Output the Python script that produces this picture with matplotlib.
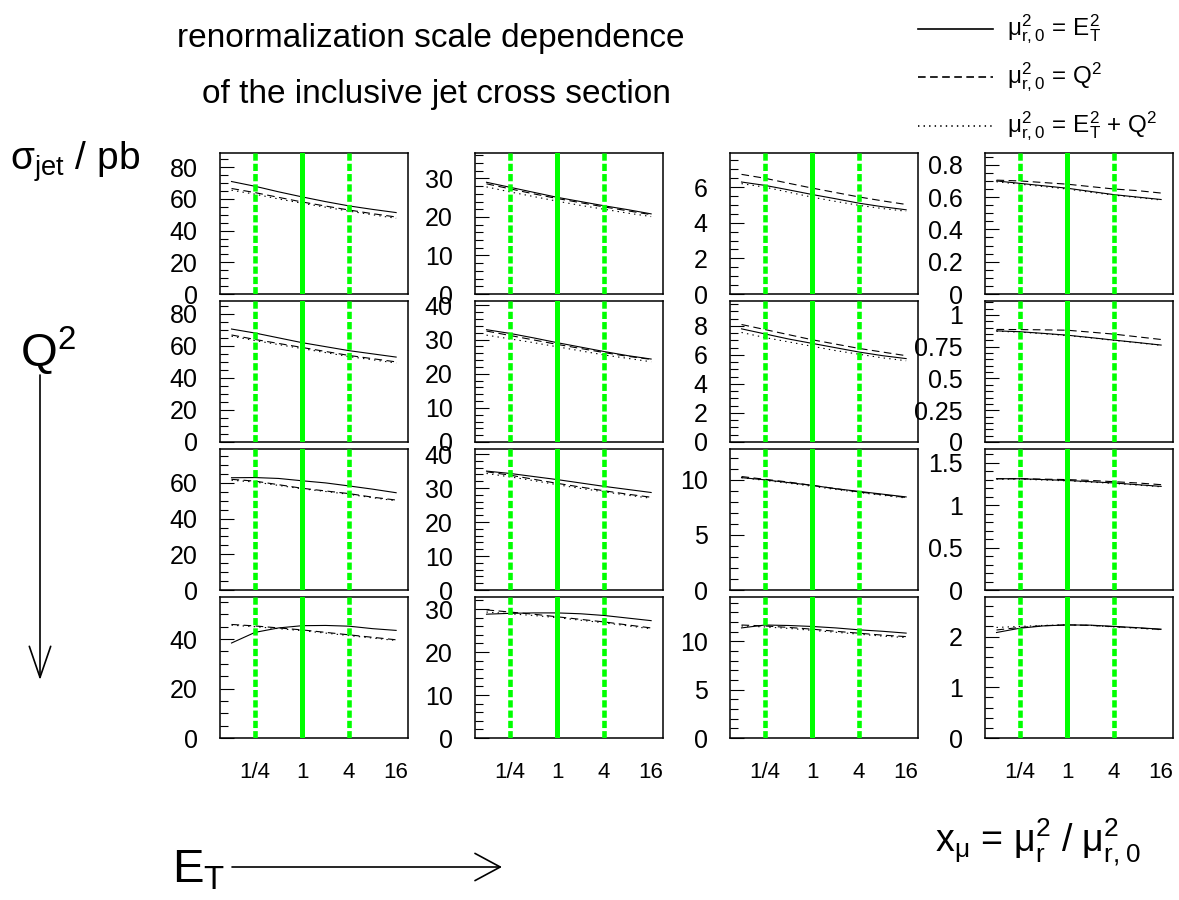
import numpy as np
import matplotlib.pyplot as plt
from matplotlib.lines import Line2D
from matplotlib.patches import FancyArrowPatch
from matplotlib.ticker import FixedLocator, MultipleLocator, AutoMinorLocator, NullLocator, FuncFormatter

plt.rcParams['font.family'] = ['Liberation Sans', 'DejaVu Sans']
plt.rcParams['mathtext.default'] = 'regular'
plt.rcParams['lines.scale_dashes'] = False

# renormalization scale factor x_mu = mu_r^2 / mu_r,0^2
xmu = [1/8, 1/4, 1/2, 1, 2, 4, 8, 16]
xtick_vals = [1/4, 1, 4, 16]
xtick_labels = ['1/4', '1', '4', '16']

# sigma_jet / pb, [Q2 row][E_T column]
# mu_r,0^2 = E_T^2 (solid)
sigma_et = [
    [[71, 68, 64.5, 61.3, 58.3, 55.6, 53.4, 51.4],
     [29, 27.7, 26.4, 25.1, 24, 22.9, 21.9, 20.8],
     [6.29, 6.1, 5.85, 5.59, 5.35, 5.1, 4.9, 4.73],
     [0.70, 0.685, 0.67, 0.655, 0.635, 0.615, 0.60, 0.585]],
    [[70.5, 68, 65, 62, 59.5, 57, 55, 53],
     [32.9, 31.8, 30.5, 29.1, 27.8, 26.5, 25.3, 24.3],
     [7.8, 7.45, 7.1, 6.8, 6.5, 6.2, 5.95, 5.75],
     [0.875, 0.868, 0.855, 0.841, 0.822, 0.802, 0.783, 0.763]],
    [[62.9, 63, 62.5, 61.2, 60, 58.3, 56.5, 54.5],
     [35, 34.3, 33.4, 32.5, 31.5, 30.5, 29.6, 28.7],
     [10.2, 10.0, 9.75, 9.5, 9.2, 8.95, 8.7, 8.45],
     [1.31, 1.31, 1.30, 1.29, 1.275, 1.26, 1.24, 1.22]],
    [[38.4, 42.7, 44.5, 45.4, 45.5, 45.2, 44.2, 43.5],
     [28.8, 29.0, 29.1, 29.1, 28.9, 28.5, 27.9, 27.3],
     [11.4, 11.7, 11.65, 11.55, 11.4, 11.2, 11.05, 10.86],
     [2.08, 2.165, 2.21, 2.23, 2.225, 2.20, 2.175, 2.145]],
]
# mu_r,0^2 = Q^2 (dashed)
sigma_q2 = [
    [[66.6, 64, 61, 58.1, 55.5, 53, 50.7, 48.6],
     [28.6, 27.3, 26, 24.8, 23.7, 22.6, 21.6, 20.6],
     [6.72, 6.5, 6.22, 5.95, 5.7, 5.45, 5.23, 5.03],
     [0.705, 0.70, 0.69, 0.68, 0.665, 0.65, 0.64, 0.625]],
    [[66.8, 64, 61.5, 59, 56.5, 54, 52, 50],
     [32.5, 31.2, 29.9, 28.6, 27.4, 26.2, 25.1, 24.2],
     [8.1, 7.75, 7.4, 7.05, 6.75, 6.45, 6.2, 5.95],
     [0.886, 0.885, 0.883, 0.88, 0.865, 0.849, 0.828, 0.807]],
    [[62, 61, 59, 57, 55.5, 54, 52, 50.4],
     [34.8, 33.8, 32.6, 31.4, 30.3, 29.2, 28.2, 27.3],
     [10.3, 10.05, 9.8, 9.5, 9.2, 8.9, 8.65, 8.4],
     [1.31, 1.31, 1.305, 1.30, 1.29, 1.275, 1.26, 1.24]],
    [[45.9, 45.3, 44.5, 43.7, 42.7, 41.7, 40.7, 39.7],
     [29.8, 29.3, 28.8, 28.2, 27.6, 27.0, 26.3, 25.6],
     [11.7, 11.6, 11.45, 11.27, 11.05, 10.85, 10.65, 10.5],
     [2.13, 2.18, 2.215, 2.23, 2.22, 2.195, 2.17, 2.14]],
]
# mu_r,0^2 = E_T^2 + Q^2 (dotted)
sigma_sum = [
    [[65.5, 63, 60, 57.3, 54.8, 52.3, 50, 47.8],
     [27.8, 26.5, 25.3, 24.1, 23, 22, 21, 20.1],
     [6.2, 6.0, 5.72, 5.44, 5.2, 4.98, 4.8, 4.65],
     [0.695, 0.68, 0.665, 0.65, 0.63, 0.612, 0.597, 0.582]],
    [[66, 63.3, 60.8, 58.3, 55.8, 53.3, 51.3, 49.3],
     [31.3, 30.2, 29.1, 27.9, 26.7, 25.5, 24.5, 23.5],
     [7.55, 7.2, 6.9, 6.6, 6.3, 6.05, 5.8, 5.6],
     [0.872, 0.865, 0.852, 0.838, 0.82, 0.8, 0.781, 0.761]],
    [[61.5, 60.5, 58.6, 56.7, 55.2, 53.6, 51.7, 50],
     [34.3, 33.3, 32.2, 31.0, 29.9, 28.9, 27.9, 27.0],
     [10.2, 9.95, 9.7, 9.42, 9.13, 8.85, 8.6, 8.35],
     [1.305, 1.305, 1.295, 1.285, 1.27, 1.255, 1.235, 1.215]],
    [[45.6, 45, 44.2, 43.4, 42.4, 41.4, 40.4, 39.4],
     [29.3, 28.9, 28.5, 28.0, 27.4, 26.8, 26.1, 25.4],
     [11.6, 11.5, 11.35, 11.15, 10.95, 10.75, 10.55, 10.4],
     [2.18, 2.2, 2.22, 2.23, 2.22, 2.19, 2.165, 2.135]],
]

# y axis upper limits and label steps
ymax = [[89, 36.6, 7.92, 0.873],
        [88, 41.3, 9.72, 1.11],
        [79, 41.5, 12.8, 1.66],
        [57, 32.8, 14.6, 2.78]]
ystep = [[20, 10, 2, 0.2],
         [20, 10, 2, 0.25],
         [20, 10, 5, 0.5],
         [20, 10, 5, 1]]

W, H = 1179, 900
fig = plt.figure(figsize=(W / 100, H / 100), dpi=100)

def fx(px):
    return px / W

def fy(py):
    return 1 - py / H

col_left = [220, 475, 730, 985]
row_top = [153, 301, 449, 597]
pw, ph = 188, 141
green = '#00ff00'

for r in range(4):
    for c in range(4):
        ax = fig.add_axes([fx(col_left[c]), fy(row_top[r] + ph), pw / W, ph / H])
        ax.set_xscale('log')
        ax.set_xlim(0.089, 22.7)
        ax.set_ylim(0, ymax[r][c])

        ax.plot(xmu, sigma_et[r][c], color='black', lw=0.8, zorder=2)
        ax.plot(xmu, sigma_q2[r][c], color='black', lw=0.8, dashes=(5.5, 3.2), zorder=2)
        ax.plot(xmu, sigma_sum[r][c], color='black', lw=0.8, dashes=(1, 3), zorder=2)

        tr = ax.get_xaxis_transform()
        ax.plot([1, 1], [1, 0], transform=tr, color=green, lw=3.6, zorder=3)
        for v in (0.25, 4):
            ax.plot([v, v], [1, 0], transform=tr, color=green, lw=3.3,
                    dashes=(5.2, 2.2), zorder=3)

        ax.xaxis.set_major_locator(FixedLocator(xtick_vals))
        ax.xaxis.set_minor_locator(NullLocator())
        if r == 3:
            ax.set_xticklabels(xtick_labels)
        else:
            ax.set_xticklabels([])
        ax.tick_params(axis='x', length=0, pad=17, labelsize=16)

        st = ystep[r][c]
        ax.yaxis.set_major_locator(MultipleLocator(st))
        nsub = 4 if st in (20, 2, 0.2) else 5
        ax.yaxis.set_minor_locator(AutoMinorLocator(nsub))
        ax.yaxis.set_major_formatter(FuncFormatter(lambda v, p: '%g' % round(v, 4)))
        ax.tick_params(axis='y', which='major', direction='in', length=10, width=0.8,
                       pad=16, labelsize=18)
        ax.tick_params(axis='y', which='minor', direction='in', length=5.5, width=0.8)
        for s in ax.spines.values():
            s.set_linewidth(1.1)

# title
fig.text(fx(431), fy(47), 'renormalization scale dependence', ha='center', va='baseline',
         fontsize=24)
fig.text(fx(436), fy(103), 'of the inclusive jet cross section', ha='center', va='baseline',
         fontsize=24)

# axis descriptions
fig.text(fx(10), fy(170), r'$\sigma_{jet}$ / pb', ha='left', va='baseline', fontsize=28)
fig.text(fx(20), fy(366), r'$Q^{2}$', ha='left', va='baseline', fontsize=34)
fig.text(fx(172), fy(882), r'$E_{T}$', ha='left', va='baseline', fontsize=34)
fig.text(fx(935), fy(852), r'$x_{\mu}$ = $\mu_{r}^{2}$ / $\mu_{r,0}^{2}$', ha='left',
         va='baseline', fontsize=27)

arrows = [((40, 375), (40, 680), 'head_length=1.6,head_width=0.55'),
          ((232, 867), (502, 867), 'head_length=1.3,head_width=0.7')]
for (x0, y0), (x1, y1), head in arrows:
    fig.add_artist(FancyArrowPatch((fx(x0), fy(y0)), (fx(x1), fy(y1)),
                                   transform=fig.transFigure, arrowstyle='->,' + head,
                                   mutation_scale=14, color='black', lw=1.2,
                                   shrinkA=0, shrinkB=0))

# legend
leg_y = [29, 77, 126]
leg_text = [r'$\mu_{r,0}^{2}$ = $E_{T}^{2}$',
            r'$\mu_{r,0}^{2}$ = $Q^{2}$',
            r'$\mu_{r,0}^{2}$ = $E_{T}^{2}$ + $Q^{2}$']
leg_dash = [None, (5.5, 3.2), (1, 3)]
for yy, tt, dd in zip(leg_y, leg_text, leg_dash):
    ln = Line2D([fx(918), fx(993)], [fy(yy), fy(yy)], color='black', lw=1.2,
                transform=fig.transFigure)
    if dd is not None:
        ln.set_dashes(dd)
    fig.add_artist(ln)
    fig.text(fx(1007), fy(yy), tt, ha='left', va='center', fontsize=17.5)

fig.savefig('out.png', dpi=100)
